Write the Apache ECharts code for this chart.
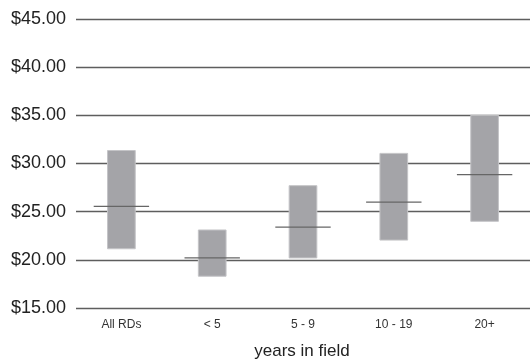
<!DOCTYPE html>
<html>
<head>
<meta charset="utf-8">
<script src="https://cdn.jsdelivr.net/npm/echarts@6/dist/echarts.min.js"></script>
<style>
html,body{margin:0;padding:0;background:#fff;}
#chart{width:530px;height:363px;}
</style>
</head>
<body>
<div id="chart"></div>
<script>
var categories = ['All RDs', '< 5', '5 - 9', '10 - 19', '20+'];
var lows = [21.15, 18.3, 20.2, 22.05, 24.0];
var highs = [31.35, 23.1, 27.7, 31.05, 35.0];
var medians = [25.55, 20.2, 23.4, 26.0, 28.85];
var yTicks = {min: 15, max: 45, interval: 5};

var data = categories.map(function (c, i) { return [i, lows[i], highs[i], medians[i]]; });

var chart = echarts.init(document.getElementById('chart'), null, {renderer: 'canvas'});
chart.setOption({
  animation: false,
  backgroundColor: '#ffffff',
  grid: {left: 76, right: -6, top: 19, bottom: 55, containLabel: false},
  xAxis: {
    type: 'category',
    data: categories,
    boundaryGap: true,
    axisLine: {show: false},
    axisTick: {show: false},
    axisLabel: {color: '#333', fontSize: 12, fontFamily: 'Liberation Sans, Arial, sans-serif', margin: 11}
  },
  yAxis: {
    type: 'value',
    min: yTicks.min, max: yTicks.max, interval: yTicks.interval,
    axisLine: {show: false},
    axisTick: {show: false},
    axisLabel: {
      color: '#222', fontSize: 18, fontFamily: 'Liberation Sans, Arial, sans-serif', margin: 10,
      formatter: function (v) { return '$' + v.toFixed(2); }
    },
    splitLine: {show: true, lineStyle: {color: '#5e5e5e', width: 1.3}}
  },
  graphic: [{
    type: 'text',
    x: 302, y: 351,
    style: {
      text: 'years in field', fill: '#222', fontSize: 17,
      fontFamily: 'Liberation Sans, Arial, sans-serif',
      textAlign: 'center', textVerticalAlign: 'middle'
    }
  }],
  series: [{
    type: 'custom',
    data: data,
    encode: {x: 0, y: [1, 2, 3]},
    renderItem: function (params, api) {
      var x = api.value(0);
      var lo = api.coord([x, api.value(1)]);
      var hi = api.coord([x, api.value(2)]);
      var md = api.coord([x, api.value(3)]);
      var band = api.size([1, 0])[0];
      var bw = band * 0.305;
      var mw = band * 0.61;
      return {
        type: 'group',
        children: [{
          type: 'rect',
          shape: {x: lo[0] - bw / 2, y: hi[1], width: bw, height: lo[1] - hi[1]},
          style: {fill: '#a4a4a8', stroke: '#c4c4c7', lineWidth: 1}
        }, {
          type: 'line',
          shape: {x1: md[0] - mw / 2, y1: md[1], x2: md[0] + mw / 2, y2: md[1]},
          style: {stroke: '#666', lineWidth: 1.2}
        }]
      };
    }
  }]
});
</script>
</body>
</html>
